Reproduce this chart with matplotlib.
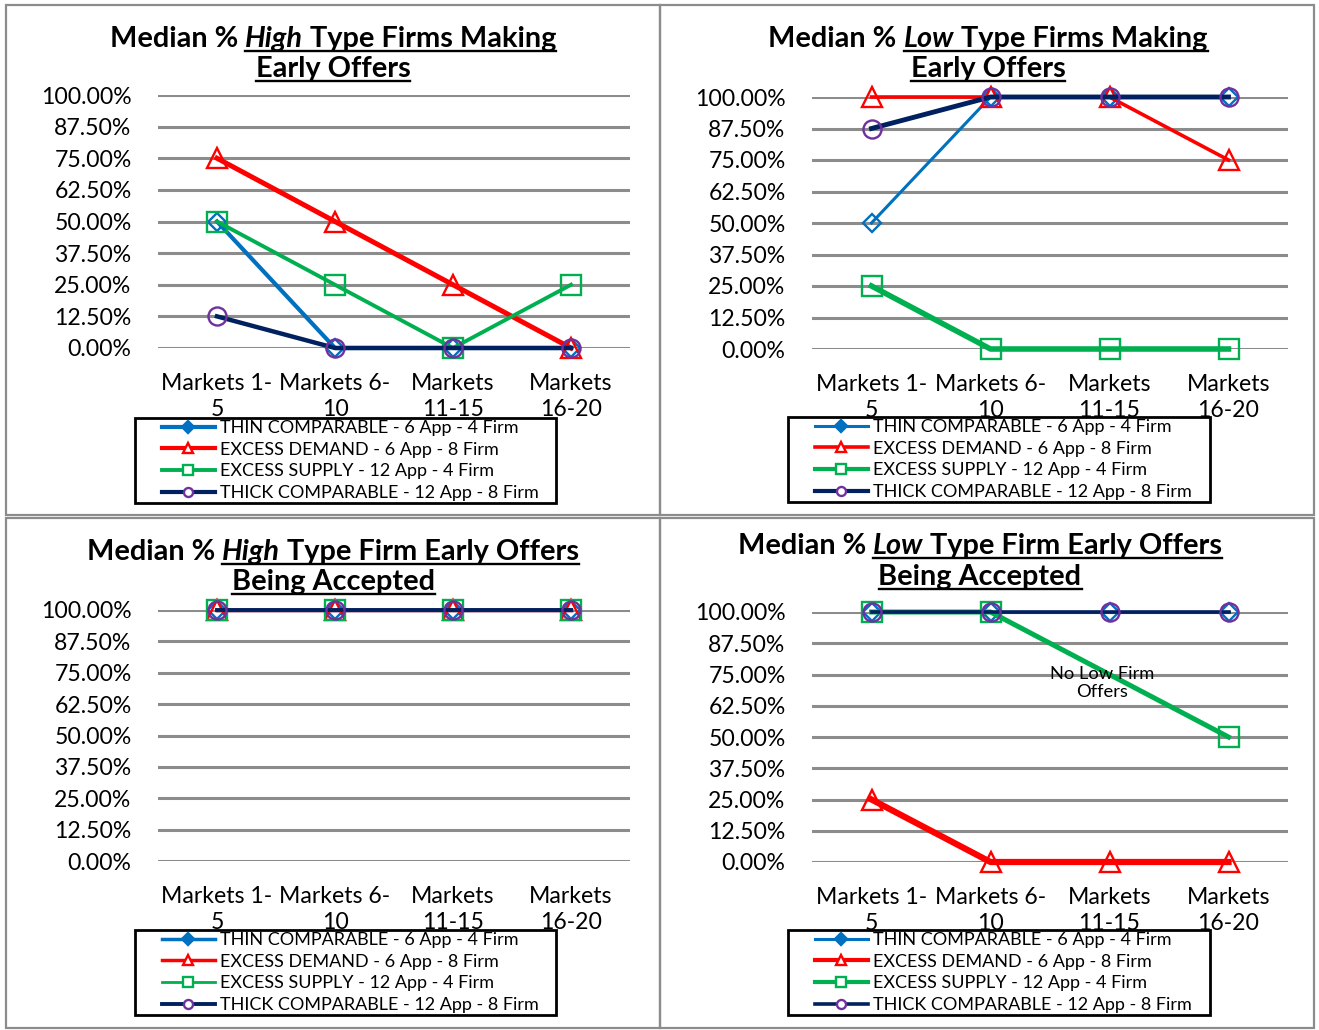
import matplotlib
matplotlib.use('Agg')
import matplotlib.pyplot as plt
from matplotlib.lines import Line2D
from matplotlib.patches import Rectangle
from matplotlib.legend_handler import HandlerLine2D
import numpy as np

plt.rcParams['font.family'] = ['Lato', 'DejaVu Sans']

W, H = 1319, 1030

# categories and series names
markets = ['Markets 1-\n5', 'Markets 6-\n10', 'Markets\n11-15', 'Markets\n16-20']
names = ['THIN COMPARABLE - 6 App - 4 Firm',
         'EXCESS DEMAND - 6 App - 8 Firm',
         'EXCESS SUPPLY - 12 App - 4 Firm',
         'THICK COMPARABLE - 12 App - 8 Firm']

# median share of high type firms making early offers
high_offer_thin = [0.50, 0.0, 0.0, 0.0]
high_offer_demand = [0.75, 0.50, 0.25, 0.0]
high_offer_supply = [0.50, 0.25, 0.0, 0.25]
high_offer_thick = [0.125, 0.0, 0.0, 0.0]

# median share of low type firms making early offers
low_offer_thin = [0.50, 1.0, 1.0, 1.0]
low_offer_demand = [1.0, 1.0, 1.0, 0.75]
low_offer_supply = [0.25, 0.0, 0.0, 0.0]
low_offer_thick = [0.875, 1.0, 1.0, 1.0]

# median share of high type early offers accepted
high_acc_thin = [1.0, 1.0, 1.0, 1.0]
high_acc_demand = [1.0, 1.0, 1.0, 1.0]
high_acc_supply = [1.0, 1.0, 1.0, 1.0]
high_acc_thick = [1.0, 1.0, 1.0, 1.0]

# median share of low type early offers accepted (no low offers in 11-15 for supply)
low_acc_thin = [1.0, 1.0, 1.0, 1.0]
low_acc_demand = [0.25, 0.0, 0.0, 0.0]
low_acc_supply = [1.0, 1.0, np.nan, 0.50]
low_acc_thick = [1.0, 1.0, 1.0, 1.0]

colors = ['#0070C0', '#FF0000', '#00B050', '#002060']
mcolors = ['#0070C0', '#FF0000', '#00B050', '#7030A0']
markers = ['D', '^', 's', 'o']
msizes = [9.5, 15, 14, 13]

fig = plt.figure(figsize=(W / 100, H / 100), dpi=100)
renderer = fig.canvas.get_renderer()


def fx(x):
    return x / W


def fy(y):
    return 1 - y / H


class PaddedLine(HandlerLine2D):
    # leaves some blank room left of the legend sample line
    def create_artists(self, legend, orig_handle, xdescent, ydescent, width,
                       height, fontsize, trans):
        pad = 18
        return super().create_artists(legend, orig_handle, xdescent - pad, ydescent,
                                      width - pad, height, fontsize, trans)


# panel frames
for x0, y0, x1, y1 in [(6, 5, 660, 515), (660, 5, 1314, 515),
                       (6, 518, 660, 1028), (660, 518, 1314, 1028)]:
    fig.patches.append(Rectangle((fx(x0), fy(y1)), (x1 - x0) / W, (y1 - y0) / H,
                                 transform=fig.transFigure, fill=False,
                                 edgecolor='#8c8c8c', lw=1.6))


def title(cx, base1, base2, word, rest, line2, size=20.8):
    pieces = [('Median %', 'normal', False), (word, 'italic', True), (rest, 'normal', True)]
    sp = fig.text(0, 0, 'M M', fontsize=size, fontweight='bold')
    nsp = fig.text(0, 0, 'MM', fontsize=size, fontweight='bold')
    gap = sp.get_window_extent(renderer).width - nsp.get_window_extent(renderer).width
    sp.remove()
    nsp.remove()
    texts = []
    for s, st, ul in pieces:
        t = fig.text(0, fy(base1), s, fontsize=size, fontweight='bold', style=st,
                     va='baseline', ha='left')
        texts.append((t, t.get_window_extent(renderer).width, ul))
    total = sum(w for _, w, _ in texts) + gap * (len(texts) - 1)
    x = cx - total / 2
    ul_start = None
    for t, w, ul in texts:
        t.set_x(fx(x))
        if ul and ul_start is None:
            ul_start = x
        x += w + gap
    ul_end = x - gap
    fig.add_artist(Line2D([fx(ul_start), fx(ul_end)], [fy(base1 + 4)] * 2,
                          transform=fig.transFigure, color='black', lw=1.7))
    t2 = fig.text(fx(cx), fy(base2), line2, fontsize=size, fontweight='bold',
                  va='baseline', ha='center')
    w2 = t2.get_window_extent(renderer).width
    fig.add_artist(Line2D([fx(cx - w2 / 2), fx(cx + w2 / 2)], [fy(base2 + 4)] * 2,
                          transform=fig.transFigure, color='black', lw=1.7))


def panel(box, series, widths, legbox):
    x0, y0, x1, y1 = box
    ax = fig.add_axes([fx(x0), fy(y1), (x1 - x0) / W, (y1 - y0) / H])
    xs = np.arange(len(markets))
    for vals, c, mc, m, ms, lw in zip(series, colors, mcolors, markers, msizes, widths):
        v = np.array(vals, dtype=float)
        ok = ~np.isnan(v)
        ax.plot(xs[ok], v[ok], color=c, lw=lw, marker=m, ms=ms, mfc='none',
                mec=mc, mew=1.7, clip_on=False, zorder=3)
    ax.set_xlim(-0.5, 3.5)
    ax.set_ylim(0, 1)
    ax.set_yticks(np.arange(0, 1.001, 0.125))
    ax.set_yticklabels([f'{v:.2%}' for v in np.arange(0, 1.001, 0.125)])
    ax.set_xticks(xs)
    ax.set_xticklabels(markets, linespacing=1.3)
    ax.tick_params(length=0, labelsize=16.6, colors='black')
    ax.tick_params(axis='y', pad=19)
    ax.tick_params(axis='x', pad=18)
    ax.yaxis.grid(True, color='#8c8c8c', lw=2.2)
    ax.set_axisbelow(True)
    for s in ax.spines.values():
        s.set_visible(False)

    handles = []
    for c, mc, m, lw in zip(colors, mcolors, markers, widths):
        handles.append(Line2D([], [], color=c, lw=min(lw, 3), marker=m, ms=6.5,
                              mfc='white' if m != 'D' else c, mec=mc, mew=1.7))
    lx0, ly0, lx1, ly1 = legbox
    leg = ax.legend(handles, names, loc='upper left', mode='expand',
                    bbox_to_anchor=(fx(lx0), fy(ly1), (lx1 - lx0) / W, (ly1 - ly0) / H),
                    bbox_transform=fig.transFigure, borderaxespad=0, fontsize=13,
                    handlelength=4.3, handletextpad=0.3, labelspacing=0.31,
                    borderpad=0.12, fancybox=False, framealpha=1,
                    handler_map={Line2D: PaddedLine()})
    leg.get_frame().set_edgecolor('black')
    leg.get_frame().set_linewidth(2)
    leg.set_zorder(5)
    return ax


panel((158, 95, 630, 348),
      [high_offer_thin, high_offer_demand, high_offer_supply, high_offer_thick],
      [3.0, 3.6, 2.8, 3.2], (135, 418, 556, 505))
title(333, 47, 77, 'High', 'Type Firms Making', 'Early Offers')

panel((812, 97, 1288, 349),
      [low_offer_thin, low_offer_demand, low_offer_supply, low_offer_thick],
      [2.2, 2.6, 4.0, 3.5], (788, 417, 1210, 505))
title(988, 47, 77, 'Low', 'Type Firms Making', 'Early Offers')

panel((158, 610, 630, 861),
      [high_acc_thin, high_acc_demand, high_acc_supply, high_acc_thick],
      [2.5, 2.5, 2.0, 2.8], (135, 930, 556, 1020))
title(333, 560, 590, 'High', 'Type Firm Early Offers', 'Being Accepted')

ax4 = panel((812, 612, 1288, 862),
            [low_acc_thin, low_acc_demand, low_acc_supply, low_acc_thick],
            [2.2, 4.5, 3.6, 2.6], (788, 930, 1210, 1020))
title(980, 554, 585, 'Low', 'Type Firm Early Offers', 'Being Accepted')
ax4.text(1.94, 0.715, 'No Low Firm\nOffers', ha='center', va='center',
         fontsize=13.2, linespacing=1.15, zorder=4)

fig.savefig('out.png', dpi=100)
